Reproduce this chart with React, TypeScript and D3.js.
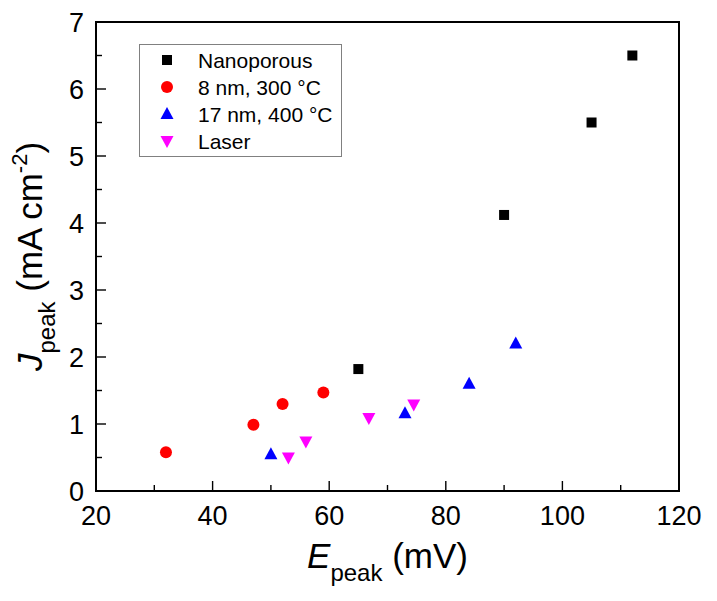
import * as d3 from 'd3'

// ── data ─────────────────────────────────────────────────────────────────────
const nanoX  = [65, 90, 105, 112]
const nanoY  = [1.82, 4.12, 5.5, 6.5]
const nm8X   = [32, 47, 52, 59]
const nm8Y   = [0.58, 0.99, 1.3, 1.47]
const nm17X  = [50, 73, 84, 92]
const nm17Y  = [0.55, 1.16, 1.6, 2.2]
const laserX = [53, 56, 66.8, 74.5]
const laserY = [0.5, 0.74, 1.09, 1.29]

const legendLabels = ['Nanoporous', '8 nm, 300 °C', '17 nm, 400 °C', 'Laser']
const xTicks = [20, 40, 60, 80, 100, 120]
const yTicks = [0, 1, 2, 3, 4, 5, 6, 7]

// ── layout ───────────────────────────────────────────────────────────────────
const W = 717, H = 601
const M = { left: 96, right: 679, top: 22, bottom: 491 }
const FONT = 'Arial, "Liberation Sans", Helvetica, sans-serif'
const COL = { nano: '#000000', nm8: '#ff0000', nm17: '#0000ff', laser: '#ff00ff' }

const x = d3.scaleLinear().domain([20, 120]).range([M.left, M.right])
const y = d3.scaleLinear().domain([0, 7]).range([M.bottom, M.top])

type Kind = 'square' | 'circle' | 'up' | 'down'

function Marker({ cx, cy, kind, color }: { cx: number; cy: number; kind: Kind; color: string }) {
  if (kind === 'square') return <rect x={cx - 5} y={cy - 5} width={10} height={10} fill={color} />
  if (kind === 'circle') return <circle cx={cx} cy={cy} r={6} fill={color} />
  if (kind === 'up')
    return <polygon points={`${cx},${cy - 7} ${cx + 6.5},${cy + 5} ${cx - 6.5},${cy + 5}`} fill={color} />
  return <polygon points={`${cx},${cy + 7} ${cx + 6.5},${cy - 5} ${cx - 6.5},${cy - 5}`} fill={color} />
}

const series: { xs: number[]; ys: number[]; kind: Kind; color: string }[] = [
  { xs: nanoX, ys: nanoY, kind: 'square', color: COL.nano },
  { xs: nm8X, ys: nm8Y, kind: 'circle', color: COL.nm8 },
  { xs: nm17X, ys: nm17Y, kind: 'up', color: COL.nm17 },
  { xs: laserX, ys: laserY, kind: 'down', color: COL.laser },
]

export default function App() {
  const xMinor = d3.range(20, 121, 10)
  const yMinor = d3.range(0, 7.01, 0.5)
  const midX = (M.left + M.right) / 2
  const midY = (M.top + M.bottom) / 2

  return (
    <svg width={W} height={H} style={{ position: 'absolute', left: 0, top: 0, background: '#fff' }}
      fontFamily={FONT}>
      <rect width={W} height={H} fill="#fff" />

      {/* ticks (inward) */}
      {xMinor.map(v => (
        <line key={'xt' + v} x1={x(v)} x2={x(v)} y1={M.bottom} y2={M.bottom - (v % 20 === 0 ? 10 : 6)}
          stroke="#000" strokeWidth={1.4} />
      ))}
      {yMinor.map(v => (
        <line key={'yt' + v} x1={M.left} x2={M.left + (v % 1 === 0 ? 10 : 6)} y1={y(v)} y2={y(v)}
          stroke="#000" strokeWidth={1.4} />
      ))}

      {/* frame */}
      <rect x={M.left} y={M.top} width={M.right - M.left} height={M.bottom - M.top}
        fill="none" stroke="#000" strokeWidth={2} />

      {/* tick labels */}
      {xTicks.map(v => (
        <text key={'xl' + v} x={x(v)} y={M.bottom + 34} textAnchor="middle" fontSize={27}>{v}</text>
      ))}
      {yTicks.map(v => (
        <text key={'yl' + v} x={M.left - 12} y={y(v) + 9.5} textAnchor="end" fontSize={27}>{v}</text>
      ))}

      {/* axis titles */}
      <text x={midX} y={568} textAnchor="middle" fontSize={35}>
        <tspan fontStyle="italic">E</tspan>
        <tspan fontSize={24} dy={13}>peak</tspan>
        <tspan dy={-13}> (mV)</tspan>
      </text>
      <text transform={`translate(42,${midY}) rotate(-90)`} textAnchor="middle" fontSize={35}>
        <tspan fontStyle="italic">J</tspan>
        <tspan fontSize={24} dy={13}>peak</tspan>
        <tspan dy={-13}> (mA cm</tspan>
        <tspan fontSize={22} dy={-15}>-2</tspan>
        <tspan dy={15}>)</tspan>
      </text>

      {/* points */}
      {series.map((s, si) =>
        s.xs.map((xv, i) => (
          <Marker key={si + '-' + i} cx={x(xv)} cy={y(s.ys[i])} kind={s.kind} color={s.color} />
        )),
      )}

      {/* legend */}
      <rect x={139.5} y={44.5} width={202} height={112} fill="#fff" stroke="#808080" strokeWidth={1} />
      {series.map((s, i) => {
        const ly = 60 + i * 27
        return (
          <g key={'lg' + i}>
            <Marker cx={167} cy={ly} kind={s.kind} color={s.color} />
            <text x={198} y={ly + 7.5} fontSize={21}>{legendLabels[i]}</text>
          </g>
        )
      })}
    </svg>
  )
}
